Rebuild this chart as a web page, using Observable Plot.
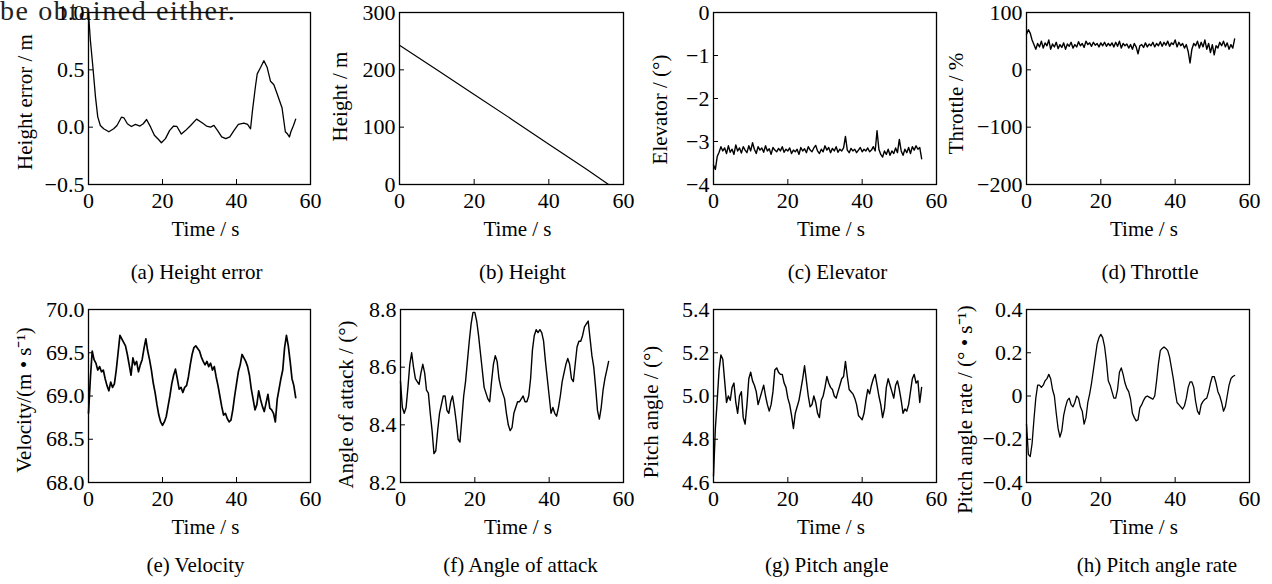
<!DOCTYPE html>
<html><head><meta charset="utf-8">
<script src="https://cdn.jsdelivr.net/npm/d3@7"></script>
<script src="https://cdn.jsdelivr.net/npm/@observablehq/plot@0.6"></script>
<style>
body{margin:0;background:#fff;}
#root{position:relative;width:1272px;height:584px;overflow:hidden;font-family:"Liberation Serif","Times New Roman",serif;}
#stray{position:absolute;left:0;top:-3px;font-size:28px;letter-spacing:1.6px;line-height:28px;color:#222;white-space:nowrap;}
</style></head><body>
<div id="root"><div id="stray">be obtained either.</div></div>
<script>
// ---------- data ----------
const xTicks = [0, 20, 40, 60];
const sampleStep = 0.5; // seconds between samples of the uniformly sampled series

const heightErrTicks = [-0.5, 0, 0.5, 1.0];
const heightTicks = [0, 100, 200, 300];
const elevatorTicks = [-4, -3, -2, -1, 0];
const throttleTicks = [-200, -100, 0, 100];
const velocityTicks = [68.0, 68.5, 69.0, 69.5, 70.0];
const aoaTicks = [8.2, 8.4, 8.6, 8.8];
const pitchTicks = [4.6, 4.8, 5.0, 5.2, 5.4];
const pitchRateTicks = [-0.4, -0.2, 0, 0.2, 0.4];

const heightErrT = [0,0.5,1.2,1.9,2.5,3.2,4.1,5.5,6.8,7.7,8.9,9.6,10.5,11.6,12.7,13.9,14.8,15.7,16.8,17.8,19.0,19.7,20.8,21.9,23.0,23.9,25.1,26.2,27.6,29.2,30.6,31.9,33.0,33.9,34.9,36.0,37.1,38.2,39.3,40.5,42.0,43.0,43.8,44.3,45.1,45.6,46.5,47.4,48.3,49.2,50.1,51.0,52.3,53.2,53.8,54.3,54.7,55.4,56.0];
const heightErrV = [0.99,0.76,0.52,0.26,0.09,0.015,-0.014,-0.04,-0.014,0.015,0.087,0.08,0.03,0.006,0.024,0.01,0.03,0.067,0.0,-0.07,-0.11,-0.136,-0.1,-0.03,0.01,0.006,-0.06,-0.03,0.015,0.07,0.04,0.01,0.0,0.015,-0.03,-0.085,-0.1,-0.085,-0.03,0.024,0.035,0.024,-0.014,0.14,0.35,0.465,0.52,0.58,0.52,0.4,0.37,0.29,0.17,-0.04,-0.06,-0.086,-0.04,0.015,0.07];

const heightT = [0, 10, 20, 30, 40, 50, 56];
const heightV = [243, 200, 157, 114, 70, 27, 0];

const elevatorV = [
-3.55,-3.65,-3.35,-3.25,-3.12,-3.22,-3.15,-3.28,-3.10,-3.25,
-3.18,-3.30,-3.08,-3.22,-3.15,-3.27,-3.12,-3.20,-3.26,-3.10,
-3.22,-3.03,-3.18,-3.28,-3.12,-3.20,-3.15,-3.25,-3.10,-3.22,
-3.17,-3.30,-3.14,-3.20,-3.24,-3.16,-3.22,-3.12,-3.25,-3.18,
-3.22,-3.15,-3.28,-3.20,-3.24,-3.18,-3.30,-3.14,-3.22,-3.17,
-3.26,-3.12,-3.20,-3.24,-3.15,-3.09,-3.22,-3.28,-3.18,-3.24,
-3.10,-3.20,-3.14,-3.26,-3.16,-3.22,-3.12,-3.25,-3.18,-3.22,
-3.15,-2.88,-3.20,-3.26,-3.16,-3.22,-3.18,-3.26,-3.20,-3.14,
-3.24,-3.18,-3.22,-3.15,-3.24,-3.20,-3.12,-3.22,-2.75,-3.18,
-3.30,-3.36,-3.22,-3.30,-3.18,-3.32,-3.22,-3.28,-3.15,-3.26,
-2.95,-3.22,-3.32,-3.18,-3.26,-3.14,-3.28,-3.12,-3.20,-3.10,
-3.18,-3.14,-3.40];

const throttleV = [
62,70,64,52,44,36,46,40,50,38,
47,42,52,36,45,40,48,37,44,39,
47,36,45,41,48,38,44,40,49,42,
46,39,50,44,47,41,48,43,46,40,
47,42,48,41,46,42,47,40,48,41,
50,38,46,42,45,38,44,36,46,40,
28,42,44,39,47,40,45,42,48,40,
46,42,49,41,48,43,50,41,47,44,
52,40,48,42,46,38,44,32,12,36,
46,42,50,38,48,40,52,36,46,30,
44,26,42,38,48,42,50,40,47,36,
44,38,54];

const velocityV = [
68.80,69.20,69.52,69.42,69.38,69.30,69.34,69.28,69.30,69.20,
69.12,69.06,69.16,69.10,69.14,69.30,69.50,69.70,69.66,69.62,
69.58,69.48,69.36,69.24,69.44,69.36,69.40,69.28,69.36,69.42,
69.55,69.66,69.52,69.42,69.30,69.15,69.04,68.90,68.78,68.70,
68.66,68.70,68.76,68.88,69.00,69.14,69.24,69.31,69.20,69.08,
69.10,69.04,69.10,69.12,69.22,69.36,69.48,69.56,69.58,69.55,
69.52,69.45,69.40,69.36,69.40,69.34,69.38,69.30,69.34,69.22,
69.12,69.00,68.88,68.78,68.80,68.74,68.70,68.72,68.84,69.00,
69.14,69.28,69.36,69.48,69.44,69.40,69.34,69.24,69.08,68.96,
68.84,68.90,69.06,68.96,68.88,68.82,68.92,69.02,68.86,68.84,
68.80,68.70,68.96,69.08,69.20,69.30,69.56,69.70,69.58,69.40,
69.20,69.12,68.98];

const aoaV = [
8.55,8.46,8.44,8.46,8.53,8.61,8.65,8.60,8.56,8.55,
8.54,8.58,8.61,8.58,8.52,8.51,8.44,8.38,8.30,8.31,
8.38,8.44,8.47,8.50,8.50,8.45,8.44,8.48,8.50,8.46,
8.41,8.35,8.34,8.42,8.50,8.55,8.62,8.69,8.75,8.79,
8.79,8.76,8.71,8.65,8.59,8.53,8.51,8.49,8.48,8.55,
8.61,8.64,8.62,8.56,8.53,8.51,8.49,8.44,8.40,8.38,
8.39,8.44,8.46,8.48,8.48,8.49,8.50,8.48,8.48,8.50,
8.56,8.66,8.71,8.73,8.72,8.73,8.72,8.69,8.62,8.56,
8.50,8.44,8.46,8.44,8.43,8.46,8.50,8.55,8.58,8.61,
8.63,8.61,8.56,8.55,8.61,8.67,8.69,8.69,8.71,8.74,
8.75,8.76,8.70,8.64,8.60,8.53,8.45,8.42,8.46,8.52,
8.56,8.59,8.62];

const pitchV = [
4.63,4.85,4.98,5.12,5.19,5.17,5.07,4.97,5.00,4.98,
5.04,5.06,4.97,4.92,5.00,5.02,4.90,4.87,4.96,5.08,
5.11,5.07,5.05,5.02,4.96,4.99,5.02,5.05,5.00,4.96,
4.93,4.96,5.02,5.12,5.13,5.11,5.10,5.10,5.06,5.04,
4.99,4.96,4.91,4.85,4.92,4.95,4.98,5.03,5.08,5.14,
5.07,5.00,4.95,4.96,5.00,4.97,4.92,4.90,4.98,5.00,
5.04,5.09,5.06,5.04,5.03,5.00,4.99,5.02,5.05,5.08,
5.09,5.16,5.09,5.03,5.02,5.01,4.99,4.96,4.91,4.90,
4.89,4.92,4.98,5.03,5.01,5.05,5.08,5.10,5.05,5.00,
4.96,4.90,4.94,5.04,5.08,5.05,5.02,4.99,5.05,5.07,
5.03,4.98,4.92,4.94,4.93,4.96,5.02,5.08,5.10,5.06,
5.07,4.97,5.04];

const pitchRateV = [
-0.13,-0.27,-0.28,-0.22,-0.11,-0.01,0.05,0.05,0.04,0.05,
0.07,0.08,0.10,0.08,0.03,0.00,-0.08,-0.15,-0.19,-0.16,
-0.09,-0.05,-0.02,-0.01,-0.04,-0.05,-0.03,0.00,-0.01,-0.05,
-0.07,-0.13,-0.10,-0.03,0.01,0.06,0.12,0.18,0.24,0.27,
0.285,0.27,0.23,0.16,0.07,0.05,0.02,-0.01,-0.01,0.03,
0.11,0.13,0.10,0.06,0.035,0.02,-0.015,-0.08,-0.10,-0.115,
-0.11,-0.055,-0.04,-0.02,-0.005,0.0,-0.005,-0.01,-0.015,0.0,
0.07,0.15,0.21,0.22,0.227,0.22,0.21,0.18,0.13,0.08,
0.02,-0.03,-0.04,-0.05,-0.06,-0.045,-0.01,0.04,0.065,0.065,
0.04,-0.025,-0.07,-0.085,-0.04,-0.025,-0.015,-0.01,0.02,0.06,
0.09,0.09,0.06,0.02,0.0,-0.03,-0.07,-0.05,0.00,0.05,
0.08,0.09,0.095];

// ---------- layout / styling ----------
const f0 = d3.format("d");
const f1 = d3.format(".1f");
const fz = d => d === 0 ? "0" : d3.format(".1f")(d);

const panels = [
  {caption:"(a) Height error", ylabel:"Height error / m", t:heightErrT, v:heightErrV, yDomain:[-0.5,1], yTicks:heightErrTicks, fmt:f1, frame:[88,12,310,184], labDx:-71, labDy:3.5, capDx:-3, capDy:80, sw:1.3},
  {caption:"(b) Height", ylabel:"Height / m", t:heightT, v:heightV, yDomain:[0,300], yTicks:heightTicks, fmt:f0, frame:[399,12,623,184], labDx:-67, labDy:-2, capDx:11, capDy:80, sw:1.2},
  {caption:"(c) Elevator", ylabel:"Elevator / (°)", v:elevatorV, yDomain:[-4,0], yTicks:elevatorTicks, fmt:f0, frame:[713,12,936,184], labDx:-61, labDy:11, capDx:12.5, capDy:80, sw:1.4},
  {caption:"(d) Throttle", ylabel:"Throttle / %", v:throttleV, yDomain:[-200,100], yTicks:throttleTicks, fmt:f0, frame:[1026,12,1249,184], labDx:-78, labDy:5, capDx:12, capDy:80, sw:1.4},
  {caption:"(e) Velocity", ylabel:"Velocity/(m • s⁻¹)", v:velocityV, yDomain:[68,70], yTicks:velocityTicks, fmt:f1, frame:[88,309,310,482], labDx:-72, labDy:4, capDx:-4, capDy:75, sw:1.7},
  {caption:"(f) Angle of attack", ylabel:"Angle of attack / (°)", v:aoaV, yDomain:[8.2,8.8], yTicks:aoaTicks, fmt:f1, frame:[400,309,623,482], labDx:-62, labDy:8.5, capDx:8.5, capDy:75, sw:1.4},
  {caption:"(g) Pitch angle", ylabel:"Pitch angle / (°)", v:pitchV, yDomain:[4.6,5.4], yTicks:pitchTicks, fmt:f1, frame:[713,309,936,482], labDx:-70, labDy:16, capDx:1.7, capDy:75, sw:1.4},
  {caption:"(h) Pitch angle rate", ylabel:"Pitch angle rate / (° • s⁻¹)", v:pitchRateV, yDomain:[-0.4,0.4], yTicks:pitchRateTicks, fmt:fz, frame:[1026,309,1249,482], labDx:-69, labDy:13.5, capDx:19, capDy:75, sw:1.3}
];

const root = document.getElementById("root");
const ML = 95, MR = 22, MT = 10, MB = 100;

for (const p of panels) {
  const [x0, y0, x1, y1] = p.frame;
  const data = p.v.map((v, i) => ({t: p.t ? p.t[i] : i * sampleStep, v}));
  const chart = Plot.plot({
    width: ML + (x1 - x0) + MR,
    height: MT + (y1 - y0) + MB,
    marginLeft: ML, marginRight: MR, marginTop: MT, marginBottom: MB,
    style: {background: "none", fontFamily: "'Liberation Serif','Times New Roman',serif", fontSize: "22px", color: "#000", overflow: "visible"},
    x: {domain: [0, 60], label: null},
    y: {domain: p.yDomain, label: null},
    marks: [
      Plot.line(data, {x: "t", y: "v", stroke: "#000", strokeWidth: p.sw}),
      Plot.frame({stroke: "#000", strokeWidth: 1.3}),
      Plot.axisX(xTicks, {tickSize: -5, tickPadding: 13, tickFormat: f0, label: null, stroke: "#000"}),
      Plot.axisY(p.yTicks, {tickSize: -5, tickPadding: 9, tickFormat: p.fmt, label: null, stroke: "#000"}),
      Plot.text([p.ylabel], {text: d => d, frameAnchor: "left", rotate: -90, dx: p.labDx, dy: p.labDy, lineAnchor: "top", textAnchor: "middle", fontSize: 21, fill: "#000"}),
      Plot.text(["Time / s"], {text: d => d, frameAnchor: "bottom", dx: 6, dy: 37, lineAnchor: "top", textAnchor: "middle", fontSize: 21, fill: "#000"}),
      Plot.text([p.caption], {text: d => d, frameAnchor: "bottom", dx: p.capDx, dy: p.capDy, lineAnchor: "top", textAnchor: "middle", fontSize: 21, fill: "#000"})
    ]
  });
  chart.style.position = "absolute";
  chart.style.left = (x0 - ML) + "px";
  chart.style.top = (y0 - MT) + "px";
  root.appendChild(chart);
}
</script>
</body></html>
